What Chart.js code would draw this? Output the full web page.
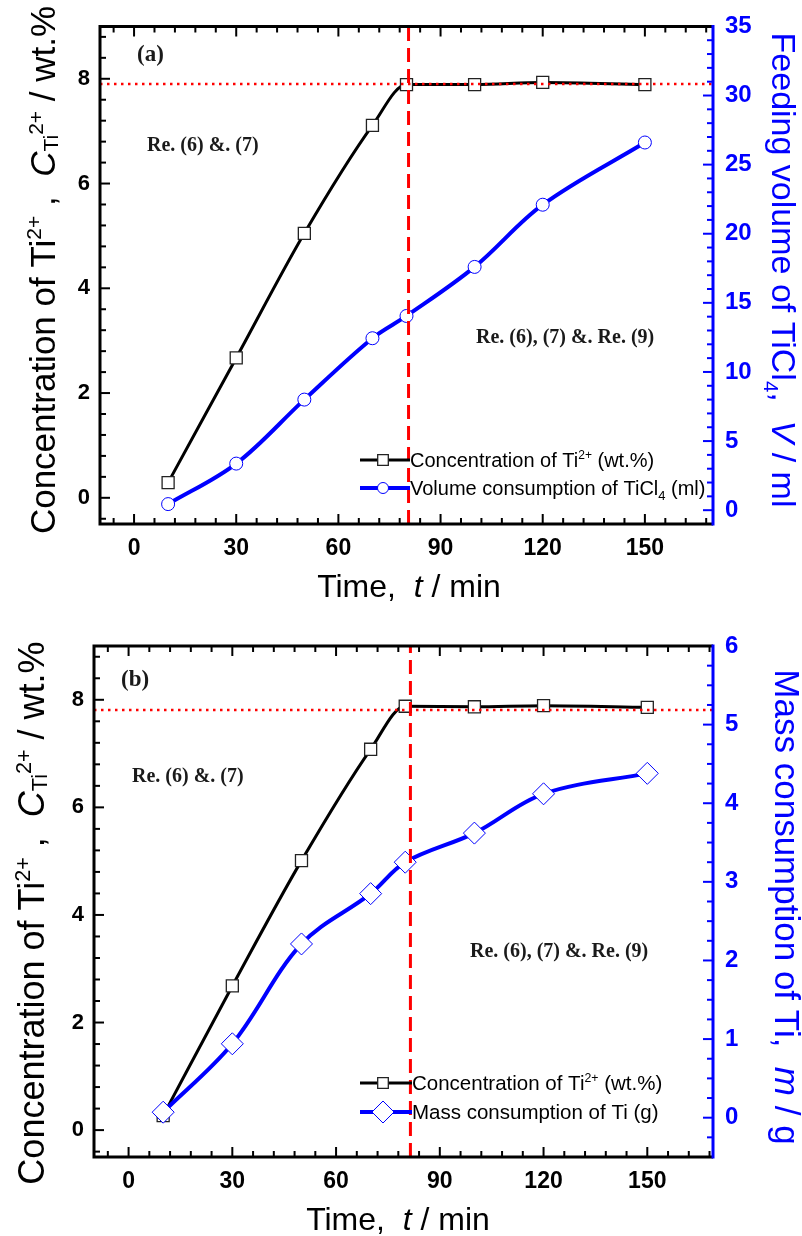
<!DOCTYPE html>
<html><head><meta charset="utf-8">
<script src="https://cdn.jsdelivr.net/npm/chart.js@4.4.0/dist/chart.umd.min.js"></script>
<style>
html,body{margin:0;padding:0;background:#fff;}
#wrap{position:relative;width:802px;height:1236px;overflow:hidden;background:#fff;}
canvas{position:absolute;left:0;}
</style></head><body>
<div id="wrap">
<canvas id="ca" width="802" height="610" style="top:0px"></canvas>
<canvas id="cb" width="802" height="626" style="top:610px"></canvas>
</div>
<script>
// ---------------- data ----------------
const timeMin = [10, 30, 50, 70, 80, 100, 120, 150];
const concA  = [0.29, 2.67, 5.05, 7.11, 7.89, 7.89, 7.93, 7.89];
const volumeA = [0.44, 3.37, 8.0, 12.44, 14.05, 17.6, 22.1, 26.6];
const concB  = [0.27, 2.68, 5.01, 7.08, 7.88, 7.87, 7.89, 7.86];
const massB  = [0.07, 0.94, 2.21, 2.85, 3.25, 3.62, 4.12, 4.38];
const xTickLabels = [0, 30, 60, 90, 120, 150];
const leftTickLabels = [0, 2, 4, 6, 8];
const rightTickLabelsA = [0, 5, 10, 15, 20, 25, 30, 35];
const rightTickLabelsB = [0, 1, 2, 3, 4, 5, 6];
const plateauA = 7.9, boundaryA = 80.6;
const plateauB = 7.81, boundaryB = 81.5;

const BLUE = '#0000ff';
const SANS = '"Liberation Sans", Arial, sans-serif';
const SERIF = '"Liberation Serif", "Times New Roman", serif';

function segFont(s, base, fam) {
  const sz = base * (s.k || 1);
  return (s.i ? 'italic ' : '') + (s.b ? 'bold ' : '') + sz + 'px ' + fam;
}
function richWidth(ctx, segs, base, fam) {
  let w = 0;
  for (const s of segs) { ctx.font = segFont(s, base, fam); w += ctx.measureText(s.t).width; }
  return w;
}
function drawRich(ctx, segs, x, y, base, fam, center) {
  let cx = center ? x - richWidth(ctx, segs, base, fam) / 2 : x;
  ctx.textAlign = 'left'; ctx.textBaseline = 'alphabetic';
  for (const s of segs) {
    ctx.font = segFont(s, base, fam);
    ctx.fillText(s.t, cx, y + (s.dy || 0) * base);
    cx += ctx.measureText(s.t).width;
  }
}
function marker(ctx, style, x, y, r, stroke, lw) {
  ctx.save();
  ctx.fillStyle = '#fff'; ctx.strokeStyle = stroke; ctx.lineWidth = lw;
  ctx.beginPath();
  if (style === 'rect') { const h = r * Math.SQRT1_2; ctx.rect(x - h, y - h, 2 * h, 2 * h); }
  else if (style === 'circle') { ctx.arc(x, y, r, 0, Math.PI * 2); }
  else { ctx.moveTo(x, y - r); ctx.lineTo(x + r, y); ctx.lineTo(x, y + r); ctx.lineTo(x - r, y); ctx.closePath(); }
  ctx.fill(); ctx.stroke();
  ctx.restore();
}

function range(a, b, step) { const out = []; for (let v = a; v <= b + 1e-9; v += step) out.push(+v.toFixed(4)); return out; }

function decoPlugin(s) {
  return {
    id: 'deco',
    afterDraw(chart) {
      const ctx = chart.ctx, ca = chart.chartArea;
      const xs = chart.scales.x, yl = chart.scales.y, yr = chart.scales.y2;
      ctx.save();
      // inward ticks
      ctx.lineCap = 'butt';
      ctx.lineWidth = 2;
      ctx.strokeStyle = '#000';
      const isMaj = (arr, v) => arr.some(m => Math.abs(m - v) < 1e-6);
      for (const v of range(-6, s.xmax, 6)) {
        if (v <= s.xmin || v >= s.xmax) continue;
        const L = isMaj(xTickLabels, v) ? 10 : 6;
        const px = xs.getPixelForValue(v);
        ctx.beginPath();
        ctx.moveTo(px, ca.bottom); ctx.lineTo(px, ca.bottom - L);
        ctx.moveTo(px, ca.top); ctx.lineTo(px, ca.top + L);
        ctx.stroke();
      }
      for (const v of range(-0.4, 8.8, 0.4)) {
        const L = isMaj(leftTickLabels, v) ? 10 : 6;
        const py = yl.getPixelForValue(v);
        ctx.beginPath(); ctx.moveTo(ca.left, py); ctx.lineTo(ca.left + L, py); ctx.stroke();
      }
      ctx.strokeStyle = BLUE;
      for (const v of range(s.rMinorStart, s.rmax, s.rMinor)) {
        if (v <= s.rmin || v >= s.rmax) continue;
        const L = isMaj(s.rightTicks, v) ? 10 : 6;
        const py = yr.getPixelForValue(v);
        ctx.beginPath(); ctx.moveTo(ca.right, py); ctx.lineTo(ca.right - L, py); ctx.stroke();
      }
      // frame
      ctx.lineWidth = 3;
      ctx.strokeStyle = '#000';
      ctx.beginPath();
      ctx.moveTo(ca.right, ca.top); ctx.lineTo(ca.left, ca.top); ctx.lineTo(ca.left, ca.bottom); ctx.lineTo(ca.right, ca.bottom);
      ctx.stroke();
      ctx.strokeStyle = BLUE;
      ctx.beginPath(); ctx.moveTo(ca.right, ca.top - 1.5); ctx.lineTo(ca.right, ca.bottom + 1.5); ctx.stroke();

      // axis titles
      ctx.fillStyle = '#000';
      ctx.save();
      ctx.translate(s.lt.x, s.lt.y); ctx.rotate(-Math.PI / 2);
      drawRich(ctx, s.lt.segs, 0, 0, s.lt.size, SANS, true);
      ctx.restore();
      ctx.fillStyle = BLUE;
      ctx.save();
      ctx.translate(s.rt.x, s.rt.y); ctx.rotate(Math.PI / 2);
      drawRich(ctx, s.rt.segs, 0, 0, s.rt.size, SANS, true);
      ctx.restore();
      ctx.fillStyle = '#000';
      drawRich(ctx, [{t: 'Time,  '}, {t: 't', i: true}, {t: ' / min'}], s.xt.x, s.xt.y, s.xt.size, SANS, true);

      // annotations
      ctx.fillStyle = '#1a1a1a';
      ctx.textAlign = 'left'; ctx.textBaseline = 'alphabetic';
      ctx.font = 'bold 23px ' + SERIF;
      ctx.fillText(s.tag.t, s.tag.x, s.tag.y);
      ctx.font = 'bold 20px ' + SERIF;
      for (const a of s.notes) ctx.fillText(a.t, a.x, a.y);

      // legend
      const lg = s.legend;
      ctx.lineWidth = 3; ctx.strokeStyle = '#000';
      ctx.beginPath(); ctx.moveTo(lg.x0, lg.y1); ctx.lineTo(lg.x1, lg.y1); ctx.stroke();
      marker(ctx, 'rect', lg.mx, lg.y1, 7.5, '#222', 1.3);
      ctx.lineWidth = 4; ctx.strokeStyle = BLUE;
      ctx.beginPath(); ctx.moveTo(lg.x0, lg.y2); ctx.lineTo(lg.x1, lg.y2); ctx.stroke();
      marker(ctx, s.blueStyle, lg.mx, lg.y2, s.legendBlueR, BLUE, 1);
      ctx.fillStyle = '#000';
      drawRich(ctx, lg.t1, lg.tx, lg.y1 + 7, lg.size, SANS, false);
      drawRich(ctx, lg.t2, lg.tx, lg.y2 + 7, lg.size, SANS, false);
      ctx.restore();
    }
  };
}

function makePanel(id, s) {
  const el = document.getElementById(id);
  const W = el.width, H = el.height;
  const pts = (xs, ys) => xs.map((x, i) => ({x: x, y: ys[i]}));
  const tickFont = (sz) => ({family: SANS, weight: 'bold', size: sz});
  new Chart(el, {
    type: 'line',
    data: {
      datasets: [
        {label: 'plateau', data: [{x: s.xmin, y: s.plateau}, {x: s.xmax, y: s.plateau}], yAxisID: 'y',
         borderColor: '#ff0000', borderWidth: 2.5, borderDash: [2.5, 4.5], pointRadius: 0, tension: 0},
        {label: 'boundary', data: [{x: s.boundary, y: -0.5}, {x: s.boundary, y: 9}], yAxisID: 'y',
         borderColor: '#ff0000', borderWidth: 3, borderDash: [14, 7], pointRadius: 0, tension: 0},
        {label: 'blue', data: pts(timeMin, s.blue), yAxisID: 'y2', borderColor: BLUE, borderWidth: 4,
         pointStyle: s.blueStyle, pointRadius: s.blueR, pointBackgroundColor: '#fff', pointBorderColor: BLUE,
         pointBorderWidth: 1, tension: 0.35},
        {label: 'conc', data: pts(timeMin, s.conc), yAxisID: 'y', borderColor: '#000', borderWidth: 3,
         pointStyle: 'rect', pointRadius: 8.5, pointBackgroundColor: '#fff', pointBorderColor: '#222',
         pointBorderWidth: 1.3, cubicInterpolationMode: 'monotone'}
      ]
    },
    options: {
      responsive: false, animation: false, events: [],
      layout: {padding: {top: s.top, left: 0, right: 0, bottom: 0}},
      plugins: {legend: {display: false}, tooltip: {enabled: false}, title: {display: false}},
      scales: {
        x: {type: 'linear', position: 'bottom', min: s.xmin, max: s.xmax,
            afterFit: sc => { sc.height = H - s.bottom; },
            afterBuildTicks: sc => { sc.ticks = xTickLabels.map(v => ({value: v})); },
            grid: {display: false, drawTicks: false}, border: {display: false},
            ticks: {color: '#000', font: tickFont(23), padding: 11, maxRotation: 0, autoSkip: false}},
        y: {type: 'linear', position: 'left', min: -0.5, max: 9,
            afterFit: sc => { sc.width = s.left; },
            afterBuildTicks: sc => { sc.ticks = leftTickLabels.map(v => ({value: v})); },
            grid: {display: false, drawTicks: false}, border: {display: false},
            ticks: {color: '#000', font: tickFont(22), padding: 10, autoSkip: false}},
        y2: {type: 'linear', position: 'right', min: s.rmin, max: s.rmax,
            afterFit: sc => { sc.width = W - s.right; },
            afterBuildTicks: sc => { sc.ticks = s.rightTicks.map(v => ({value: v})); },
            grid: {display: false, drawTicks: false}, border: {display: false},
            ticks: {color: BLUE, font: tickFont(24), padding: 12, autoSkip: false}}
      }
    },
    plugins: [decoPlugin(s)]
  });
}

const sup = t => ({t: t, k: 0.6, dy: -0.4});
makePanel('ca', {
  top: 24, left: 100, right: 713, bottom: 524,
  xmin: -10, xmax: 170, rmin: -1, rmax: 35, rightTicks: rightTickLabelsA, rMinor: 1, rMinorStart: 0,
  conc: concA, blue: volumeA, blueStyle: 'circle', blueR: 6.5, legendBlueR: 5.5,
  plateau: plateauA, boundary: boundaryA,
  lt: {x: 55, y: 270, size: 35, segs: [{t: 'Concentration of Ti'}, sup('2+'), {t: ' ,  '}, {t: 'C', i: true},
       {t: 'Ti', k: 0.6, dy: 0.08}, {t: '2+', k: 0.6, dy: -0.35}, {t: ' / wt.%'}]},
  rt: {x: 772, y: 270, size: 34, segs: [{t: 'Feeding volume of TiCl'}, {t: '4', k: 0.6, dy: 0.25}, {t: ',  '},
       {t: 'V', i: true}, {t: ' / ml'}]},
  xt: {x: 409, y: 597, size: 32},
  tag: {t: '(a)', x: 137, y: 61},
  notes: [{t: 'Re. (6) &. (7)', x: 147, y: 151}, {t: 'Re. (6), (7) &. Re. (9)', x: 476, y: 343}],
  legend: {x0: 360, x1: 410, mx: 383, y1: 460, y2: 488, tx: 410, size: 20,
    t1: [{t: 'Concentration of Ti'}, sup('2+'), {t: ' (wt.%)'}],
    t2: [{t: 'Volume consumption of TiCl'}, {t: '4', k: 0.65, dy: 0.25}, {t: ' (ml)'}]}
});
makePanel('cb', {
  top: 36, left: 94, right: 713, bottom: 547,
  xmin: -10, xmax: 169, rmin: -0.5, rmax: 6, rightTicks: rightTickLabelsB, rMinor: 0.25, rMinorStart: -0.25,
  conc: concB, blue: massB, blueStyle: 'rectRot', blueR: 11, legendBlueR: 11,
  plateau: plateauB, boundary: boundaryB,
  lt: {x: 44, y: 303, size: 36, segs: [{t: 'Concentration of Ti'}, sup('2+'), {t: ' ,  '}, {t: 'C', i: true},
       {t: 'Ti', k: 0.6, dy: 0.08}, {t: '2+', k: 0.6, dy: -0.35}, {t: ' / wt.%'}]},
  rt: {x: 775, y: 297, size: 35, segs: [{t: 'Mass consumption of Ti,  '}, {t: 'm', i: true}, {t: ' / g'}]},
  xt: {x: 398, y: 620, size: 32},
  tag: {t: '(b)', x: 121, y: 76},
  notes: [{t: 'Re. (6) &. (7)', x: 132, y: 172}, {t: 'Re. (6), (7) &. Re. (9)', x: 470, y: 347}],
  legend: {x0: 360, x1: 412, mx: 383, y1: 473, y2: 502, tx: 412, size: 20.5,
    t1: [{t: 'Concentration of Ti'}, sup('2+'), {t: ' (wt.%)'}],
    t2: [{t: 'Mass consumption of Ti (g)'}]}
});
</script>
</body></html>
